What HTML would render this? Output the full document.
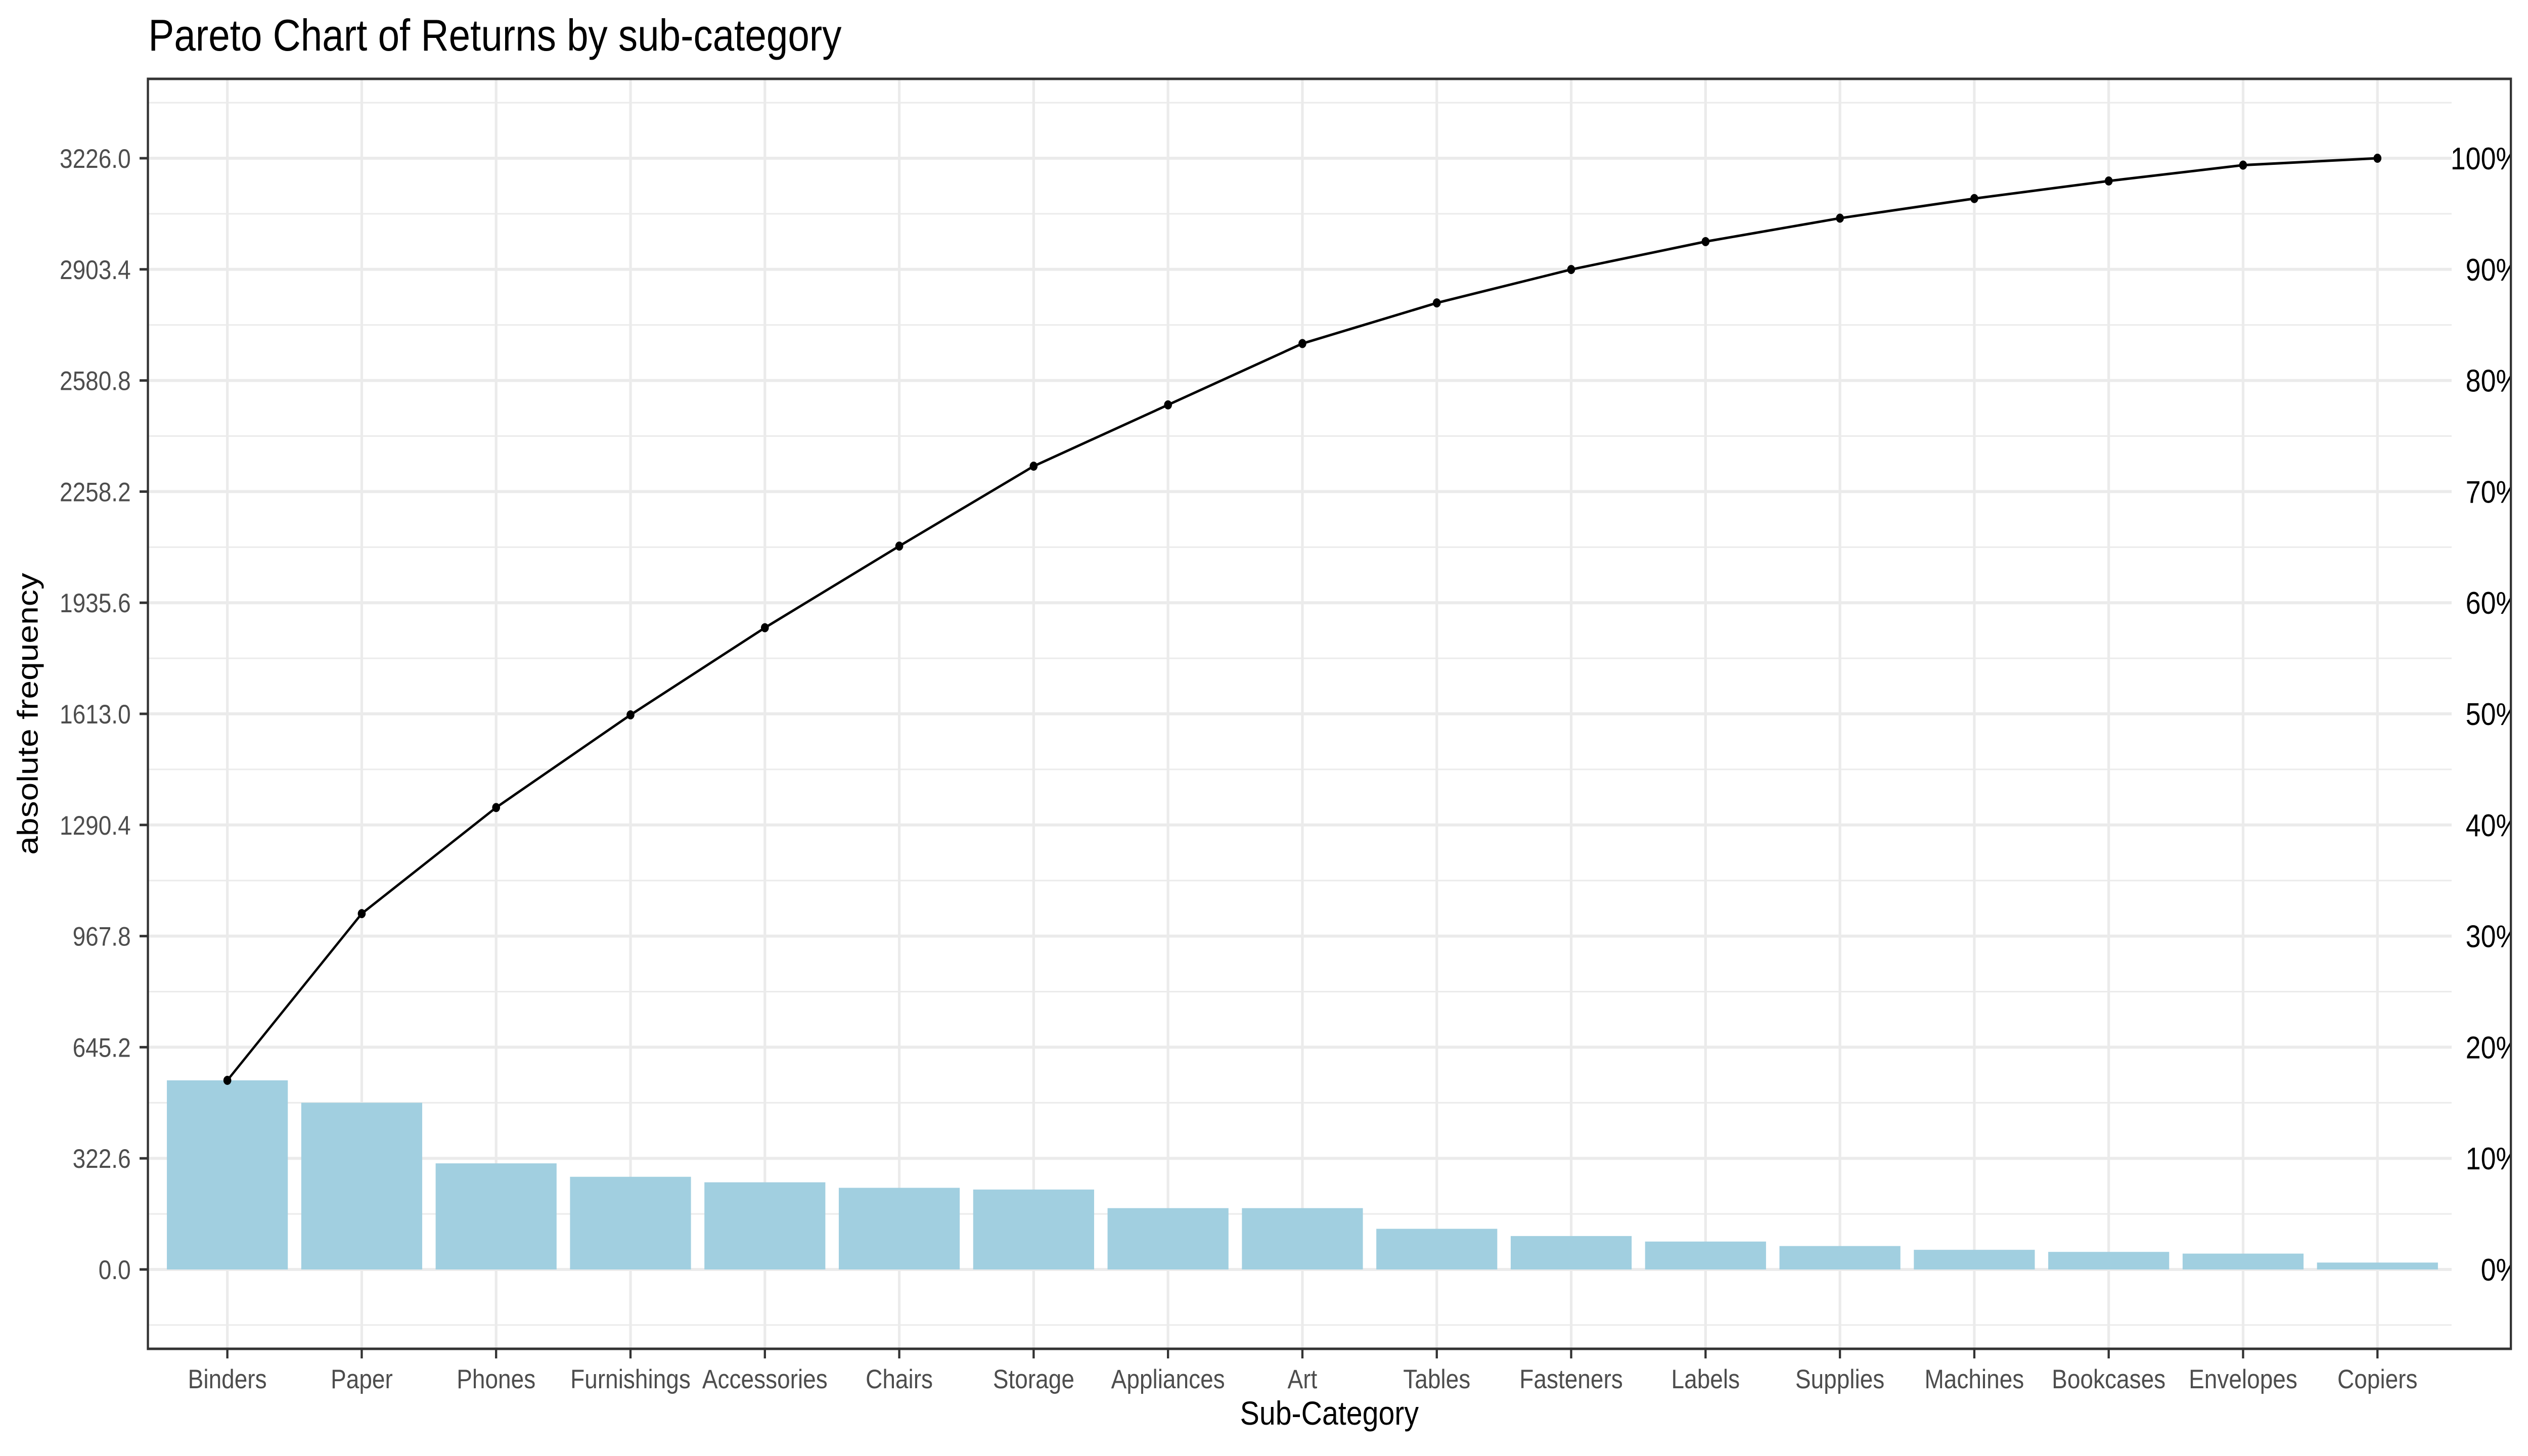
<!DOCTYPE html>
<html><head><meta charset="utf-8"><style>
html,body{margin:0;padding:0;background:#fff;width:100%;height:100%;overflow:hidden;}
svg{display:block;width:100vw;height:100vh;font-family:"Liberation Sans",Arial,sans-serif;}
</style></head><body>
<svg id="chart" viewBox="0 0 5760 2880" preserveAspectRatio="none" xmlns="http://www.w3.org/2000/svg">
<defs><clipPath id="pclip"><rect x="337" y="156" width="5384" height="2512"/></clipPath></defs>
<text x="338" y="100" font-size="88" fill="#000">Pareto Chart of Returns by sub-category</text>
<g id="grid"></g>
<g id="bars"></g>
<g id="line"></g>
<g id="pct" clip-path="url(#pclip)"></g>
<rect x="337" y="156" width="5384" height="2512" fill="none" stroke="#333" stroke-width="5"/>
<g id="axes"></g>
<text x="3029" y="2818" font-size="66" text-anchor="middle" fill="#000">Sub-Category</text>
<text transform="translate(86,1412) rotate(-90)" font-size="66" text-anchor="middle" fill="#000">absolute frequency</text>
</svg>
<script>
const categories = ["Binders","Paper","Phones","Furnishings","Accessories","Chairs","Storage","Appliances","Art","Tables","Fasteners","Labels","Supplies","Machines","Bookcases","Envelopes","Copiers"];
const counts = [549,484,308,269,253,237,232,178,178,118,97,81,68,57,51,46,20];
const yTickValues = [0,322.6,645.2,967.8,1290.4,1613.0,1935.6,2258.2,2580.8,2903.4,3226.0];
const yTickLabels = ["0.0","322.6","645.2","967.8","1290.4","1613.0","1935.6","2258.2","2580.8","2903.4","3226.0"];
const pctLabels = ["0%","10%","20%","30%","40%","50%","60%","70%","80%","90%","100%"];

const NS="http://www.w3.org/2000/svg";
const L=337,R=5721,T=156,B=2668;
const x0=518, step=(5417-518)/16;
const xPos=i=>x0+i*step;
const yPx=v=>2511-v*(2198/3226);
function mk(tag,attrs,parent,text){const e=document.createElementNS(NS,tag);for(const k in attrs)e.setAttribute(k,attrs[k]);if(text!==undefined)e.textContent=text;parent.appendChild(e);return e;}
const grid=document.getElementById('grid'),bars=document.getElementById('bars'),line=document.getElementById('line'),pct=document.getElementById('pct'),axes=document.getElementById('axes');
const total=counts.reduce((a,b)=>a+b,0);
const gridRight=5586;
for(let k=-1;k<yTickValues.length;k++){
  const v=(k+0.5)*(yTickValues[1]-yTickValues[0]);
  const y=yPx(v); if(y<T||y>B)continue;
  const g=mk('line',{x1:L,x2:gridRight,y1:y,y2:y,stroke:'#ebebeb','stroke-width':3},grid);
  
  
}
yTickValues.forEach((v,i)=>{
  const y=yPx(v);
  const g=mk('line',{x1:L,x2:gridRight,y1:y,y2:y,stroke:'#ebebeb','stroke-width':6},grid);
  
  
  const t=mk('line',{x1:318,x2:337,y1:y,y2:y,stroke:'#333','stroke-width':5},axes);
  
  
  const lb=mk('text',{x:298,y:y+19,'font-size':53,'text-anchor':'end',fill:'#4d4d4d'},axes,yTickLabels[i]);
  
  
});
categories.forEach((c,i)=>{
  const x=xPos(i);
  const g=mk('line',{x1:x,x2:x,y1:T,y2:B,stroke:'#ebebeb','stroke-width':6},grid);
  
  
  const bw=step*0.9;
  const b=mk('rect',{x:x-bw/2,y:yPx(counts[i]),width:bw,height:yPx(0)-yPx(counts[i]),fill:'#a1cfe0'},bars);
  
  
  const t=mk('line',{x1:x,x2:x,y1:B,y2:B+19,stroke:'#333','stroke-width':5},axes);
  
  
  const lb=mk('text',{x:x,y:2746,'font-size':53,'text-anchor':'middle',fill:'#4d4d4d'},axes,c);
  
  
});
let cum=0;const pts=[];
counts.forEach(v=>{cum+=v;pts.push(cum);});
const path=mk('polyline',{points:pts.map((v,i)=>xPos(i)+','+yPx(v)).join(' '),fill:'none',stroke:'#000','stroke-width':5},line);


pts.forEach((v,i)=>{
  const p=mk('circle',{cx:xPos(i),cy:yPx(v),r:9,fill:'#000'},line);
  
  
});
pctLabels.forEach((s,k)=>{
  const y=yPx(total*k/10);
  const lb=mk('text',{x:5742,y:y+22,'font-size':62,'text-anchor':'end',fill:'#000'},pct,s);
  
  
});
</script>
</body></html>
